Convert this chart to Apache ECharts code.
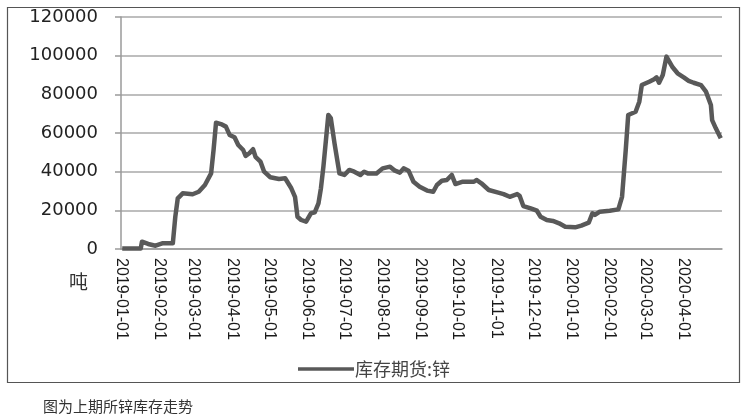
<!DOCTYPE html>
<html>
<head>
<meta charset="utf-8">
<script src="https://cdn.jsdelivr.net/npm/echarts@6/dist/echarts.min.js"></script>
<style>
html,body{margin:0;padding:0;background:#fff;}
#chart{width:749px;height:416px;}
</style>
</head>
<body>
<div id="chart"></div>
<script>
// Tick labels (y axis) and series
const yTicks = [0, 20000, 40000, 60000, 80000, 100000, 120000];
const seriesName = '库存期货:锌';
const unitLabel = '吨';
const captionText = '图为上期所锌库存走势';

const dates = [
  '2019-01-02','2019-01-17','2019-01-18','2019-01-23','2019-01-29','2019-02-04','2019-02-12','2019-02-14',
  '2019-02-16','2019-02-20','2019-02-28','2019-03-05','2019-03-10','2019-03-15','2019-03-17','2019-03-19',
  '2019-03-23','2019-03-27','2019-03-30','2019-04-03','2019-04-06','2019-04-10','2019-04-12','2019-04-15',
  '2019-04-18','2019-04-20','2019-04-24','2019-04-27','2019-05-02','2019-05-09','2019-05-14','2019-05-19',
  '2019-05-22','2019-05-24','2019-05-27','2019-05-31','2019-06-04','2019-06-07','2019-06-10','2019-06-12',
  '2019-06-14','2019-06-18','2019-06-20','2019-06-23','2019-06-27','2019-07-01','2019-07-05','2019-07-09',
  '2019-07-14','2019-07-17','2019-07-20','2019-07-27','2019-08-01','2019-08-07','2019-08-11','2019-08-15',
  '2019-08-18','2019-08-22','2019-08-26','2019-08-31','2019-09-06','2019-09-11','2019-09-14','2019-09-18',
  '2019-09-22','2019-09-26','2019-09-29','2019-10-05','2019-10-14','2019-10-16','2019-10-20','2019-10-26',
  '2019-11-02','2019-11-07','2019-11-12','2019-11-18','2019-11-20','2019-11-23','2019-11-29','2019-12-04',
  '2019-12-07','2019-12-12','2019-12-17','2019-12-22','2019-12-27','2020-01-04','2020-01-09','2020-01-15',
  '2020-01-18','2020-01-20','2020-01-24','2020-02-01','2020-02-08','2020-02-11','2020-02-14','2020-02-16',
  '2020-02-22','2020-02-25','2020-02-27','2020-03-04','2020-03-08','2020-03-10','2020-03-12','2020-03-15',
  '2020-03-18','2020-03-23','2020-03-27','2020-04-01','2020-04-05','2020-04-09','2020-04-15','2020-04-19',
  '2020-04-23','2020-04-24','2020-04-27','2020-05-01'
];
const values = [
  300,300,3800,2600,1700,3000,3000,16700,
  26200,28800,28300,29600,33100,39100,51200,65300,
  64600,63300,59000,57800,53800,51200,48100,49500,
  51600,47700,45200,40000,37100,36200,36600,31400,
  27000,16700,15000,14100,18500,19000,23600,31400,
  42600,69300,67700,54700,39100,38300,40900,40000,
  38300,40000,39100,39100,41700,42600,40500,39500,
  41700,40500,34800,32200,30200,29600,33100,35300,
  35700,38300,33600,34800,34800,35700,34000,30500,
  29300,28400,27000,28400,27500,22200,21000,19800,
  16700,15000,14500,13300,11500,11200,12100,13600,
  18500,17600,19300,19800,20500,27000,51200,69300,
  71000,76200,84800,86500,87800,88800,86000,90000,
  99500,94000,90900,88800,87000,86000,84800,81400,
  74500,66700,62400,57300
];

const axisMin = '2019-01-01';
const axisMax = '2020-05-02';
const lastLabelDate = '2020-04-01';

const chart = echarts.init(document.getElementById('chart'));
const pad = n => (n < 10 ? '0' : '') + n;
const lastLabelTime = new Date(lastLabelDate + 'T00:00:00').getTime();

chart.setOption({
  backgroundColor: '#fff',
  animation: false,
  title: {
    text: captionText,
    left: 38,
    top: 394,
    textStyle: { fontFamily: 'Noto Sans CJK SC', fontSize: 15, fontWeight: 'normal', color: '#333' }
  },
  graphic: [{
    type: 'rect',
    shape: { x: 7.5, y: 7.5, width: 732, height: 375 },
    style: { fill: 'none', stroke: '#555', lineWidth: 1.2 },
    silent: true
  }],
  legend: {
    left: 293,
    top: 355,
    icon: 'rect',
    itemWidth: 56,
    itemHeight: 3.5,
    itemGap: 10,
    textStyle: { fontFamily: 'Noto Sans CJK SC', fontSize: 18, color: '#444', padding: [0, 0, 0, -4] },
    data: [seriesName]
  },
  grid: { left: 121, right: 27, top: 17, bottom: 167, containLabel: false },
  xAxis: {
    type: 'time',
    min: axisMin,
    max: axisMax,
    minInterval: 28 * 86400000,
    maxInterval: 31 * 86400000,
    axisLine: { show: true, lineStyle: { color: '#9a9a9a', width: 1.5 } },
    axisTick: { show: false },
    splitLine: { show: false },
    axisLabel: {
      rotate: -90,
      margin: 9,
      fontFamily: 'Liberation Sans',
      fontSize: 16,
      color: '#1a1a1a',
      hideOverlap: false,
      formatter: function (val) {
        const d = new Date(val);
        if (d.getTime() > lastLabelTime) return '';
        return d.getFullYear() + '-' + pad(d.getMonth() + 1) + '-' + pad(d.getDate());
      }
    }
  },
  yAxis: {
    type: 'value',
    min: yTicks[0],
    max: yTicks[yTicks.length - 1],
    interval: yTicks[1] - yTicks[0],
    name: unitLabel,
    nameLocation: 'start',
    nameGap: 33,
    nameTextStyle: { fontFamily: 'Noto Sans CJK SC', fontSize: 19, color: '#333', align: 'right', verticalAlign: 'middle', padding: [0, 33, 0, 0] },
    axisLine: { show: true, lineStyle: { color: '#9a9a9a', width: 1.5 } },
    axisTick: { show: true, inside: false, length: 6, lineStyle: { color: '#9a9a9a', width: 1.5 } },
    splitLine: { show: true, lineStyle: { color: '#a8a8a8', width: 1.5 } },
    axisLabel: {
      margin: 23, fontFamily: 'DejaVu Sans', fontSize: 18, color: '#222',
      formatter: function (v) { return String(v); }
    }
  },
  series: [{
    name: seriesName,
    type: 'line',
    symbol: 'none',
    showSymbol: false,
    data: dates.map((d, i) => [d, values[i]]),
    lineStyle: { color: '#595959', width: 4.5, join: 'round' },
    itemStyle: { color: '#595959' }
  }]
});
</script>
</body>
</html>
